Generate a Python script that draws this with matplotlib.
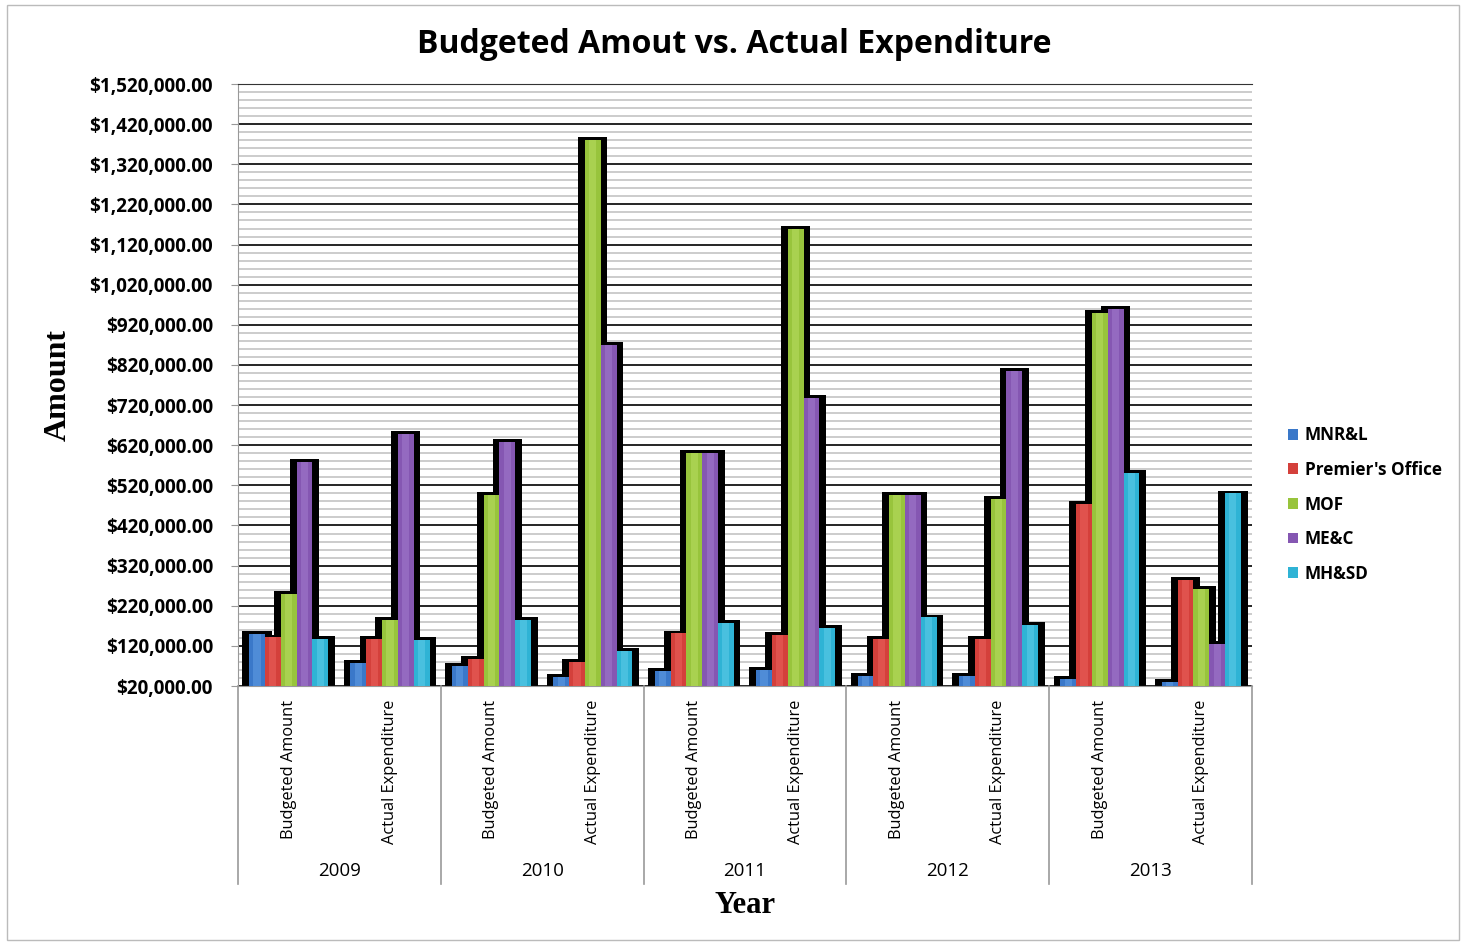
import matplotlib.pyplot as plt
import numpy as np
from matplotlib.patches import Rectangle, Patch
from matplotlib.ticker import MultipleLocator, FuncFormatter

years = ['2009', '2010', '2011', '2012', '2013']
kinds = ['Budgeted Amount', 'Actual Expenditure']
series = ['MNR&L', "Premier's Office", 'MOF', 'ME&C', 'MH&SD']

mnrl = [150000, 78000, 70000, 43000, 57000, 61000, 45000, 45000, 38000, 30000]
premier = [141000, 138000, 88000, 80000, 151000, 147000, 137000, 137000, 473000, 284000]
mof = [250000, 184000, 497000, 1380000, 600000, 1160000, 497000, 487000, 949000, 262000]
mec = [578000, 648000, 629000, 870000, 600000, 737000, 497000, 805000, 959000, 124000]
mhsd = [138000, 135000, 184000, 108000, 178000, 164000, 191000, 172000, 551000, 500000]

colors = ['#3a78c9', '#d4403b', '#98c43c', '#8557b2', '#2fb3d5']
lights = ['#6aa6ea', '#f06a63', '#bfe26a', '#a883d2', '#6ad2ec']

plt.rcParams['font.family'] = ['Open Sans', 'DejaVu Sans']

fig = plt.figure(figsize=(14.66, 9.43), dpi=100)
ax = fig.add_axes([0.1623, 0.2725, 0.6917, 0.6384])

values = [mnrl, premier, mof, mec, mhsd]
n = len(mnrl)
x = np.arange(n)
w = 0.156
pad = 0.066

# black "depth" envelope behind every group
for i, vals in enumerate(values):
    xs = x + (i - 2) * w
    ax.bar(xs, np.array(vals) + 7000, width=w + 2 * pad, color='black', zorder=2)

# coloured bars with a lighter centre stripe
for i, vals in enumerate(values):
    xs = x + (i - 2) * w
    ax.bar(xs, vals, width=w, color=colors[i], zorder=3)
    ax.bar(xs, vals, width=w * 0.45, color=lights[i], alpha=0.45, zorder=4)

ax.set_xlim(-0.5, n - 0.5)
ax.set_ylim(20000, 1520000)
ax.set_yticks(np.arange(20000, 1520001, 100000))
ax.yaxis.set_minor_locator(MultipleLocator(20000))
ax.yaxis.set_major_formatter(FuncFormatter(lambda v, p: '${:,.2f}'.format(v)))
ax.grid(axis='y', which='minor', color='#c4c4c4', linewidth=1.2, zorder=0)
ax.grid(axis='y', which='major', color='black', linewidth=1.2, zorder=1)
ax.tick_params(axis='y', which='major', length=5, color='#999999', pad=13,
               labelsize=13.6)
ax.tick_params(axis='y', which='minor', length=0)
for lab in ax.get_yticklabels():
    lab.set_fontweight('bold')
ax.set_xticks([])
ax.spines['right'].set_visible(False)
ax.spines['top'].set_color('#333333')
ax.spines['left'].set_color('#999999')
ax.spines['bottom'].set_color('#999999')

# multi level category axis
trans = ax.get_xaxis_transform()
for i in range(n):
    ax.text(x[i], -0.023, kinds[i % 2], rotation=90, ha='center', va='top',
            fontsize=11.8, transform=trans)
for j, yr in enumerate(years):
    ax.text(2 * j + 0.5, -0.307, yr, ha='center', va='center',
            fontsize=13.5, transform=trans)
for b in np.arange(-0.5, n, 2):
    ax.plot([b, b], [0, -0.329], color='#999999', linewidth=1.2,
            transform=trans, clip_on=False)

ax.set_title('Budgeted Amout vs. Actual Expenditure', fontsize=23,
             fontweight='bold', pad=22, x=0.4897)
ax.text(0.5, -0.364, 'Year', ha='center', va='center', fontsize=22,
        fontweight='bold', family='Liberation Serif', transform=ax.transAxes)
ax.text(-0.1775, 0.5, 'Amount', ha='center', va='center', rotation=90,
        fontsize=23, fontweight='bold', family='Liberation Serif',
        transform=ax.transAxes)

handles = [Patch(facecolor=c) for c in colors]
leg = fig.legend(handles, series, loc='center left',
                 bbox_to_anchor=(0.868, 0.465), frameon=False,
                 fontsize=12.3, handlelength=0.6, handleheight=0.6,
                 handletextpad=0.4, labelspacing=0.97)
for t in leg.get_texts():
    t.set_fontweight('bold')

fig.patches.append(Rectangle((0.005, 0.003), 0.99, 0.992, transform=fig.transFigure,
                             fill=False, edgecolor='#bbbbbb', linewidth=1))

fig.savefig('out.png', dpi=100)
